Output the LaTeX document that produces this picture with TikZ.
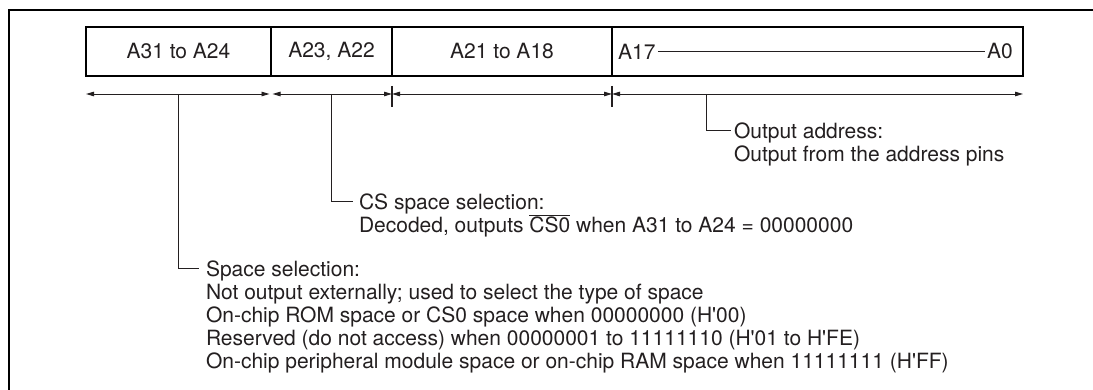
\documentclass[tikz,border=0pt]{standalone}
\usepackage{fontspec}
\setmainfont{TeX Gyre Heros}
\usepackage{tikz}
\usetikzlibrary{arrows.meta,positioning,calc}
\definecolor{inkgray}{HTML}{231F20}
\newcommand{\hexq}{\textquotesingle}
\tikzset{
  field/.style={rectangle,draw=black,line width=1.8pt,minimum height=49pt,
    minimum width=#1,outer sep=0pt,inner sep=0pt,text=inkgray},
  field/.default={100pt},
  dim/.style={{Triangle[length=8pt,width=4.5pt]}-{Triangle[length=8pt,width=4.5pt]},
    line width=0.9pt,draw=inkgray},
  tick/.style={line width=1.5pt,draw=inkgray},
  lead/.style={line width=1pt,draw=inkgray},
  bit/.style={inner sep=2pt,text=inkgray},
  note/.style={align=left,inner sep=0pt,outer sep=0pt,text=inkgray,anchor=north west},
  frame/.style={line width=2pt,draw=black},
}

\begin{document}
\begin{tikzpicture}[x=1pt,y=-1pt,node distance=0pt,font=\fontsize{21}{23}\selectfont]
  \useasboundingbox (0,0) rectangle (1093,390);
  \draw[frame] (9,390) -- (9,10) -- (1093,10);
  \node[field=185pt,anchor=west] (sel) at (86,51.5) {A31 to A24};
  \node[field=121pt,right=of sel] (cs) {A23, A22};
  \node[field=220pt,right=of cs] (mid) {A21 to A18};
  \node[field=411pt,right=of mid] (low) {};
  \node[bit,anchor=west] (a17) at ([xshift=4pt]low.west) {A17};
  \node[bit,anchor=east] (a0) at ([xshift=-8pt]low.east) {A0};
  \draw[lead] (a17) -- (a0);
  \coordinate[below=18pt of sel.south west] (d0);
  \coordinate[below=18pt of cs.south west] (d1);
  \coordinate[below=18pt of mid.south west] (d2);
  \coordinate[below=18pt of low.south west] (d3);
  \coordinate[below=18pt of low.south east] (d4);
  \draw[dim,shorten >=1.5pt] (d0) -- (d1);
  \draw[dim,shorten <=1.5pt] (d1) -- (d2);
  \draw[dim] (d2) -- (d3);
  \draw[dim] (d3) -- (d4);
  \draw[tick] ([yshift=8pt]d2) -- ([yshift=-13pt]d2);
  \draw[tick] ([yshift=8pt]d3) -- ([yshift=-13pt]d3);
  \coordinate (m1) at ($(d0)!0.5!(d1)$);
  \coordinate (m2) at ($(d1)!0.5!(d2)$);
  \coordinate (m3) at ($(d3)!0.231!(d4)$);
  \node[note] (outtxt) at (734,123.2) {Output address:\\
    Output from the address pins};
  \node[note] (cstxt) at (359,193.7) {CS space selection:\\
    Decoded, outputs $\overline{\mbox{CS0}}$ when A31 to A24 = 00000000};
  \node[note] (sptxt) at (206,260.7) {Space selection:\\
    Not output externally; used to select the type of space\\
    On-chip ROM space or CS0 space when 00000000 (H\hexq00)\\
    Reserved (do not access) when 00000001 to 11111110 (H\hexq01 to H\hexq FE)\\
    On-chip peripheral module space or on-chip RAM space when 11111111 (H\hexq FF)};
  \draw[lead] (m3) |- ([xshift=-3pt,yshift=-7.8pt]outtxt.north west);
  \draw[lead] (m2) |- ([xshift=-6pt,yshift=-7.8pt]cstxt.north west);
  \draw[lead] (m1) |- ([xshift=-7pt,yshift=-7.8pt]sptxt.north west);
\end{tikzpicture}
\end{document}
